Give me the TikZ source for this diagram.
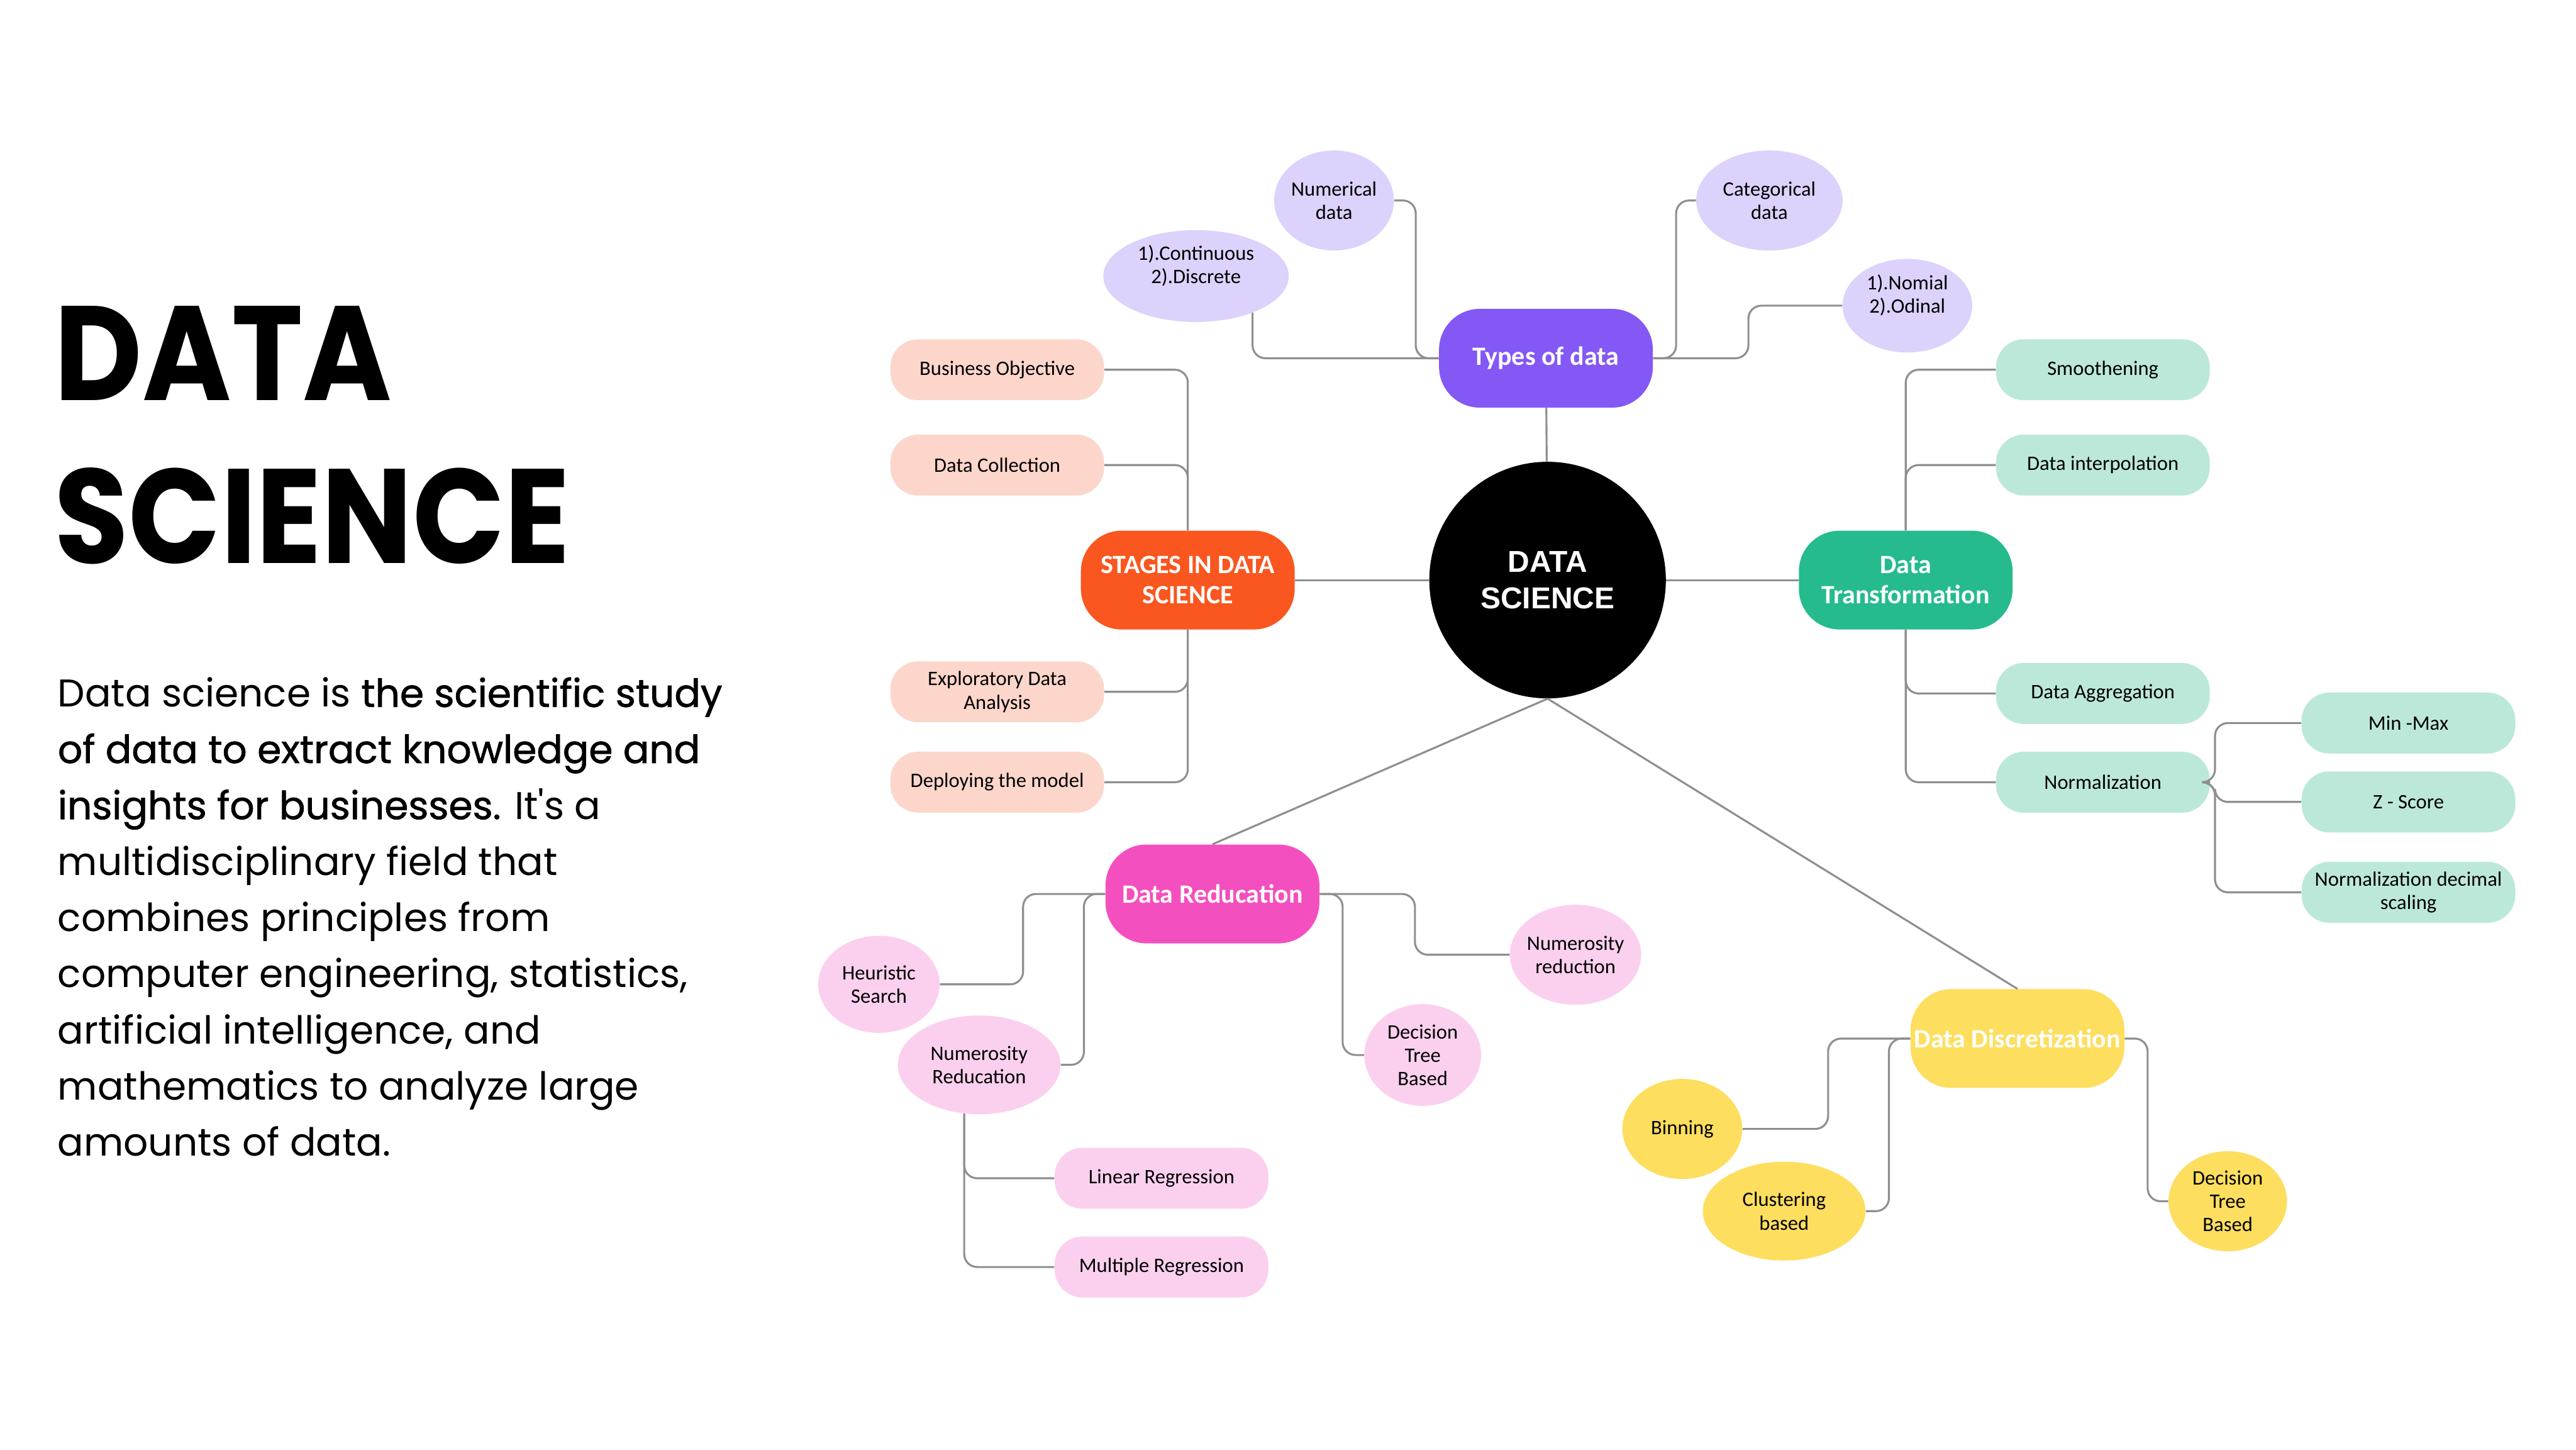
\documentclass[tikz,border=0pt]{standalone}
\usepackage{fontspec}
\setmainfont{Carlito}
\newfontfamily\popfont{Poppins}
\newfontfamily\popmed[FakeBold=1.2]{Poppins}
\newfontfamily\titlefont[FakeStretch=0.9]{Poppins}
\newfontfamily\hubfont{Liberation Sans}
\usetikzlibrary{shapes.geometric}
\definecolor{violetA}{HTML}{8358F4}
\definecolor{violetL}{HTML}{DCD2FB}
\definecolor{orangeA}{HTML}{FA561F}
\definecolor{orangeL}{HTML}{FDD6CB}
\definecolor{greenA}{HTML}{25BB8E}
\definecolor{greenL}{HTML}{BCE8DA}
\definecolor{pinkA}{HTML}{F44FBF}
\definecolor{pinkL}{HTML}{FBD0EE}
\definecolor{yellowA}{HTML}{FDDE5E}
\definecolor{lineG}{HTML}{8F8F8F}

\begin{document}
\begin{tikzpicture}[x=0.03827cm, y=-0.03827cm,
  link/.style={draw=lineG, line width=1.3pt, rounded corners=0.3cm},
  hub/.style={rounded corners=0.95cm, minimum width=4.98cm, minimum height=2.3cm, inner sep=0pt,
    align=center, text=white, font=\fontsize{17.5}{20}\selectfont\bfseries},
  leaf/.style={rounded corners=0.65cm, minimum width=4.98cm, minimum height=1.42cm, inner sep=0pt,
    align=center, font=\fontsize{13.6}{15.5}\selectfont},
  bubble/.style={ellipse, inner sep=-8pt, align=center, font=\fontsize{13.6}{15.5}\selectfont}
]
  \fill[white] (0,0) rectangle (1568,882);
  \useasboundingbox (0,0) rectangle (1568,882);

  \node[anchor=north west, inner sep=0pt, align=left, font=\titlefont\bfseries\fontsize{89}{108}\selectfont] (title) at (33,186) {DATA\\SCIENCE};
  \node[anchor=north west, inner sep=0pt, align=left, font=\popfont\fontsize{25.6}{37.2}\selectfont] (blurb) at (35,412)
    {Data science is {\popmed the scientific study}\\{\popmed of data to extract knowledge and}\\{\popmed insights for businesses.} It's a\\multidisciplinary field that\\combines principles from\\computer engineering, statistics,\\artificial intelligence, and\\mathematics to analyze large\\amounts of data.};

  \node[circle, fill=black, minimum size=5.51cm, inner sep=0pt, align=center, text=white,
    font=\hubfont\bfseries\fontsize{20}{24}\selectfont] (ds) at (942,353) {DATA\\SCIENCE};

  \node[hub, fill=violetA] (types) at (941,218) {Types of data};
  \node[bubble, fill=violetL, minimum width=2.79cm, minimum height=2.33cm] (num) at (812,122) {Numerical\\data};
  \node[bubble, fill=violetL, minimum width=4.32cm, minimum height=2.14cm, text depth=16pt] (cont) at (728,168) {1).Continuous\\2).Discrete};
  \node[bubble, fill=violetL, minimum width=3.41cm, minimum height=2.33cm] (cat) at (1077,122) {Categorical\\data};
  \node[bubble, fill=violetL, minimum width=3.02cm, minimum height=2.18cm, text depth=16pt] (nom) at (1161,186) {1).Nomial\\2).Odinal};

  \node[hub, fill=orangeA] (stages) at (723,353) {STAGES IN DATA\\SCIENCE};
  \node[leaf, fill=orangeL] (bizobj) at (607,225) {Business Objective};
  \node[leaf, fill=orangeL] (collect) at (607,283) {Data Collection};
  \node[leaf, fill=orangeL] (eda) at (607,421) {Exploratory Data\\Analysis};
  \node[leaf, fill=orangeL] (deploy) at (607,476) {Deploying the model};

  \node[hub, fill=greenA] (trans) at (1160,353) {Data\\Transformation};
  \node[leaf, fill=greenL] (smooth) at (1280,225) {Smoothening};
  \node[leaf, fill=greenL] (interp) at (1280,283) {Data interpolation};
  \node[leaf, fill=greenL] (aggr) at (1280,422) {Data Aggregation};
  \node[leaf, fill=greenL] (norm) at (1280,476) {Normalization};
  \node[leaf, fill=greenL] (minmax) at (1466,440) {Min -Max};
  \node[leaf, fill=greenL] (zscore) at (1466,488) {Z - Score};
  \node[leaf, fill=greenL] (decscale) at (1466,543) {Normalization decimal\\scaling};

  \node[hub, fill=pinkA] (reduc) at (738,544) {Data Reducation};
  \node[bubble, fill=pinkL, minimum width=2.83cm, minimum height=2.26cm] (heur) at (535,599) {Heuristic\\Search};
  \node[bubble, fill=pinkL, minimum width=3.79cm, minimum height=2.30cm] (numred) at (596,648) {Numerosity\\Reducation};
  \node[bubble, fill=pinkL, minimum width=3.06cm, minimum height=2.33cm] (numrr) at (959,581) {Numerosity\\reduction};
  \node[bubble, fill=pinkL, minimum width=2.72cm, minimum height=2.37cm] (dtreeR) at (866,642) {Decision\\Tree\\Based};
  \node[leaf, fill=pinkL] (linreg) at (707,717) {Linear Regression};
  \node[leaf, fill=pinkL] (multreg) at (707,771) {Multiple Regression};

  \node[hub, fill=yellowA] (discr) at (1228,632) {Data Discretization};
  \node[bubble, fill=yellowA, minimum width=2.79cm, minimum height=2.33cm] (binning) at (1024,687) {Binning};
  \node[bubble, fill=yellowA, minimum width=3.79cm, minimum height=2.30cm] (cluster) at (1086,737) {Clustering\\based};
  \node[bubble, fill=yellowA, minimum width=2.76cm, minimum height=2.33cm] (dtreeD) at (1356,731) {Decision\\Tree\\Based};

  \draw[link] (ds) -- (types);
  \draw[link] (ds) -- (stages);
  \draw[link] (ds) -- (trans);
  \draw[link] (ds.south) -- (reduc.north);
  \draw[link] (ds.south) -- (discr.north);

  \draw[link] (types.west) -| (cont.-33);
  \draw[link] (types.west) -- ++(-14,0) |- (num.east);
  \draw[link] (types.east) -- ++(14,0) |- (cat.west);
  \draw[link] (types.east) -- ++(58,0) |- (nom.west);

  \draw[link] (stages.north) |- (bizobj.east);
  \draw[link] (stages.north) |- (collect.east);
  \draw[link] (stages.south) |- (eda.east);
  \draw[link] (stages.south) |- (deploy.east);

  \draw[link] (trans.north) |- (smooth.west);
  \draw[link] (trans.north) |- (interp.west);
  \draw[link] (trans.south) |- (aggr.west);
  \draw[link] (trans.south) |- (norm.west);
  \draw[link] (norm.east) -- ++(3,0) |- (minmax.west);
  \draw[link] (norm.east) -- ++(3,0) |- (zscore.west);
  \draw[link] (norm.east) -- ++(3,0) |- (decscale.west);

  \draw[link] (reduc.west) -- ++(-50,0) |- (heur.east);
  \draw[link] (reduc.west) -- ++(-13,0) |- (numred.east);
  \draw[link] (reduc.east) -- ++(58,0) |- (numrr.west);
  \draw[link] (reduc.east) -- ++(14,0) |- (dtreeR.west);
  \draw[link] (numred.-107) |- (linreg.west);
  \draw[link] (numred.-107) |- (multreg.west);

  \draw[link] (discr.west) -- ++(-50,0) |- (binning.east);
  \draw[link] (discr.west) -- ++(-13,0) |- (cluster.east);
  \draw[link] (discr.east) -- ++(14,0) |- (dtreeD.west);
\end{tikzpicture}
\end{document}
